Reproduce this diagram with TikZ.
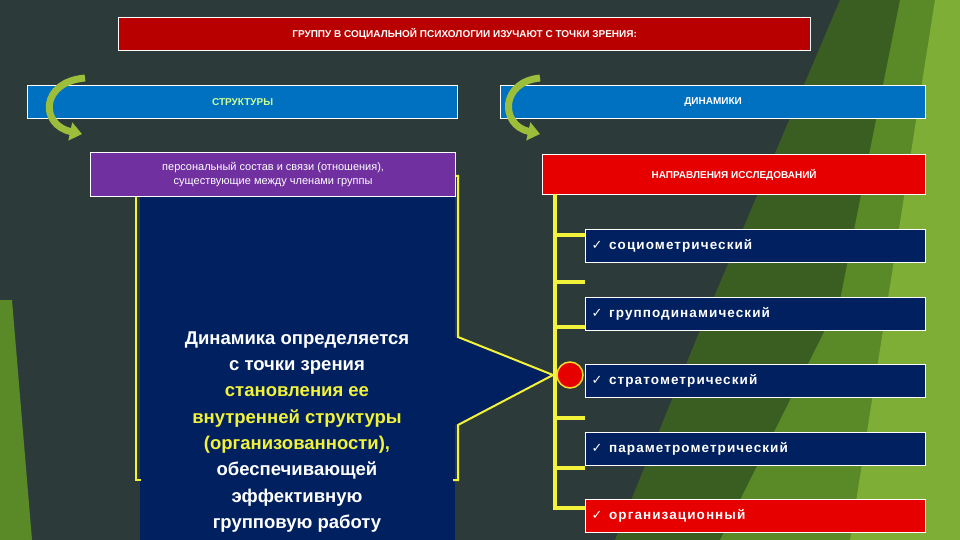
\documentclass[tikz,border=0pt]{standalone}
\usepackage{fontspec}
\setmainfont{Liberation Sans}
\newfontfamily\djvfont{DejaVu Sans}
\usetikzlibrary{arrows.meta}
\definecolor{bg}{HTML}{2D3A3A}
\definecolor{navy}{HTML}{002060}
\definecolor{blu}{HTML}{0070C0}
\definecolor{pur}{HTML}{7030A0}
\definecolor{rd}{HTML}{E60000}
\definecolor{ylw}{HTML}{F2F23A}
\definecolor{arr}{HTML}{9DBE3A}
\definecolor{gA}{HTML}{3A5E22}
\definecolor{gB}{HTML}{5A8A28}
\definecolor{gC}{HTML}{7FAE36}
\definecolor{lgr}{HTML}{CCFF99}
\newcommand{\ckm}{{\djvfont\fontsize{13}{14}\selectfont ✓}\enspace}
\tikzset{
 hdr/.style={draw=white,line width=1.2pt,minimum height=33,anchor=north west,inner sep=0pt,text=white,font=\fontsize{10}{12}\selectfont\bfseries},
 item/.style={draw=white,line width=1pt,fill=navy,minimum width=340,minimum height=33,anchor=north west,text=white,align=left,text width=328,inner sep=0pt,font=\fontsize{13.5}{15}\selectfont\bfseries\addfontfeature{LetterSpace=8}},
 tick/.style={ylw,line width=4pt},
 carr/.style={arr,line width=7pt,-{Triangle[length=12pt,width=18pt]}}
}
\begin{document}
\begin{tikzpicture}[x=1pt,y=-1pt]
\fill[bg] (0,0) rectangle (960,540);
\useasboundingbox (0,0) rectangle (960,540);
% green background
\fill[gA] (840,0) -- (960,0) -- (960,540) -- (615,540) -- (700,330) -- cycle;
\fill[gB] (900,0) -- (960,0) -- (960,540) -- (720,540) -- (840,300) -- cycle;
\fill[gC] (935,0) -- (960,0) -- (960,540) -- (850,540) -- cycle;
\fill[gB] (0,300) -- (12,300) -- (32,540) -- (0,540) -- cycle;
% title
\node[hdr,fill=rd!80!black,minimum width=692] (title) at (118,17) {ГРУППУ В СОЦИАЛЬНОЙ ПСИХОЛОГИИ ИЗУЧАЮТ С ТОЧКИ ЗРЕНИЯ:};
\node[hdr,fill=blu,minimum width=430,text=lgr] (str) at (27,85) {СТРУКТУРЫ};
\node[hdr,fill=blu,minimum width=425] (dyn) at (500,85) {ДИНАМИКИ};
% curved arrows
\coordinate (a1) at (85,78); \coordinate (a2) at (82,134);
\draw[carr] (a1) .. controls (40,82) and (40,125) .. (a2);
\coordinate (b1) at (540,78); \coordinate (b2) at (540,134);
\draw[carr] (b1) .. controls (500,82) and (500,125) .. (b2);
% callout
\coordinate (p) at (553,375);
\fill[navy] (140,196) rectangle (455,540);
\fill[navy] (455,337) -- (p) -- (455,425) -- cycle;
\draw[ylw,line width=2pt] (136,176) -- (136,480) -- (141,480);
\draw[ylw,line width=2pt] (450,176) -- (458,176) -- (458,337) -- (p) -- (458,425) -- (458,480) -- (453,480);
\node[draw=white,line width=1.2pt,fill=pur,minimum width=365,minimum height=44,anchor=north west,inner sep=0pt,text=white,align=center,font=\fontsize{11}{14}\selectfont] (pers) at (90,152) {персональный состав и связи (отношения),\\существующие между членами группы};
\node[text=white,align=center,font=\fontsize{18.5}{26.3}\selectfont\bfseries,anchor=north] (call) at (297,328) {Динамика определяется\\с точки зрения\\\textcolor{ylw}{становления ее}\\\textcolor{ylw}{внутренней структуры}\\\textcolor{ylw}{(организованности),}\\обеспечивающей\\эффективную\\групповую работу};
% right side
\node[hdr,fill=rd,minimum width=383,minimum height=40] (napr) at (542,154) {НАПРАВЛЕНИЯ ИССЛЕДОВАНИЙ};
\draw[tick] (555,194) -- (555,508) -- (585,508);
\foreach \y in {235,282,327,418,468} \draw[tick] (555,\y) -- (585,\y);
\node[item] (i1) at (585,229) {\ckm социометрический};
\node[item] (i2) at (585,297) {\ckm групподинамический};
\node[item] (i3) at (585,364) {\ckm стратометрический};
\node[item] (i4) at (585,432) {\ckm параметрометрический};
\node[item,fill=rd] (i5) at (585,499) {\ckm организационный};
\node[circle,fill=rd,draw=ylw!80!orange,line width=1.5pt,minimum size=26] (dot) at (570,375) {};
\end{tikzpicture}
\end{document}
